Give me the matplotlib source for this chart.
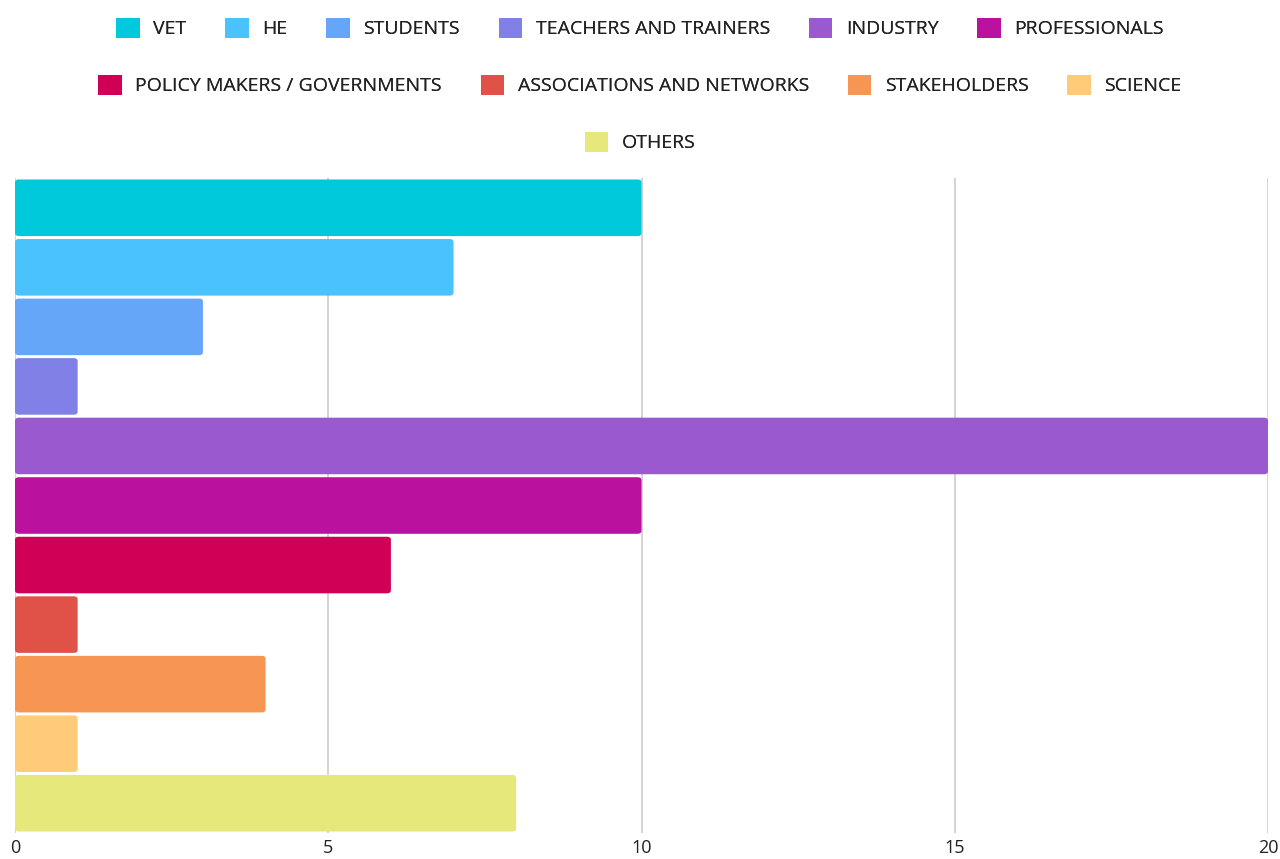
import matplotlib.pyplot as plt
from matplotlib.patches import FancyBboxPatch, Patch

plt.rcParams['font.family'] = ['Open Sans', 'DejaVu Sans']

# datos
categorias = ['VET', 'HE', 'STUDENTS', 'TEACHERS AND TRAINERS', 'INDUSTRY',
              'PROFESSIONALS', 'POLICY MAKERS / GOVERNMENTS',
              'ASSOCIATIONS AND NETWORKS', 'STAKEHOLDERS', 'SCIENCE', 'OTHERS']
valores = [10, 7, 3, 1, 20, 10, 6, 1, 4, 1, 8]
colores = ['#00C9DB', '#4AC3FD', '#66A6F9', '#8080E6', '#9B59CF', '#BA129E',
           '#D10057', '#E05248', '#F79552', '#FFCB78', '#E6E87C']
ticks_x = [0, 5, 10, 15, 20]

fig = plt.figure(figsize=(12.8, 8.59), dpi=100)
ax = fig.add_axes([15 / 1280, 26 / 859, 1253 / 1280, 655 / 859])

n = len(categorias)
handles = []
for i, (cat, val, col) in enumerate(zip(categorias, valores, colores)):
    y = n - 1 - i
    b = ax.barh(y, val, height=0.95, color=col, label=cat, zorder=3)
    # esquinas redondeadas
    rect = b.patches[0]
    rect.set_visible(False)
    fb = FancyBboxPatch((rect.get_x(), rect.get_y()), rect.get_width(), rect.get_height(),
                        boxstyle='round,pad=0,rounding_size=0.06', mutation_aspect=1 / 0.06 * 0.05,
                        facecolor=col, edgecolor='none', zorder=3)
    ax.add_patch(fb)
    handles.append(Patch(facecolor=col, edgecolor='none'))

ax.set_xlim(0, 20)
ax.set_ylim(-0.5, n - 0.5)
ax.set_xticks(ticks_x)
ax.set_yticks([])
ax.grid(axis='x', color='#cccccc', linewidth=1.2, zorder=0)
for s in ax.spines.values():
    s.set_visible(False)
ax.tick_params(axis='x', length=0, labelsize=13, labelcolor='#222222', pad=4)

# leyenda en tres filas centradas
filas = [range(0, 6), range(6, 10), range(10, 11)]
ys = [1 - 28 / 859, 1 - 85 / 859, 1 - 142 / 859]
for fila, yy in zip(filas, ys):
    hs = [handles[k] for k in fila]
    ls = [categorias[k] for k in fila]
    leg = fig.legend(hs, ls, loc='center', bbox_to_anchor=(0.5, yy), ncol=len(hs),
                     frameon=False, fontsize=14, handlelength=1.2, handleheight=1.2,
                     handletextpad=0.7, columnspacing=2.0, borderpad=0, borderaxespad=0)
    for t in leg.get_texts():
        t.set_color('#222222')
    fig.add_artist(leg)

fig.savefig('out.png', dpi=100)
